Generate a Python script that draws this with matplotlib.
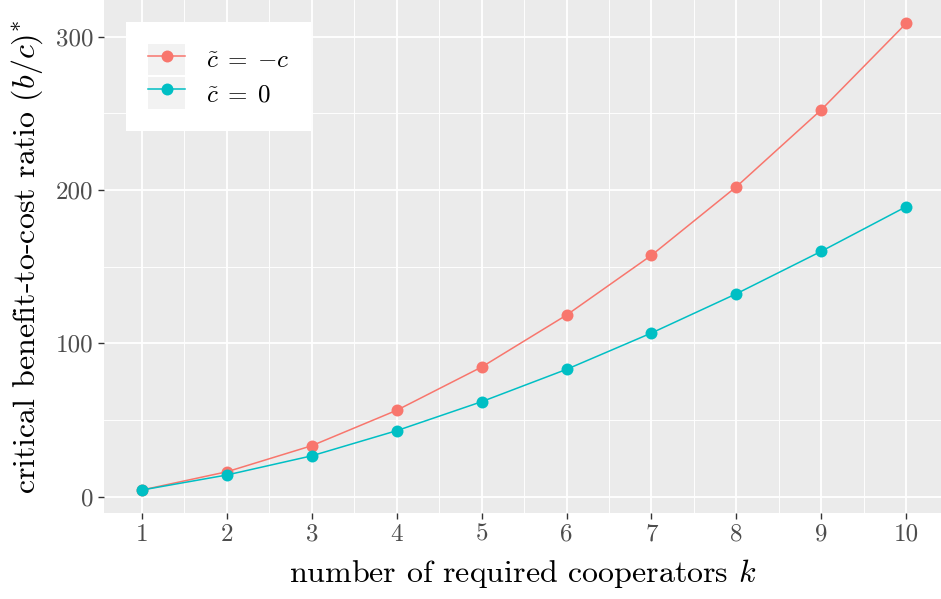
import matplotlib
matplotlib.use("Agg")
import matplotlib.pyplot as plt
from matplotlib.legend_handler import HandlerLine2D
from matplotlib.patches import Rectangle
from matplotlib.ticker import FixedLocator

# critical benefit-to-cost ratio versus number of required cooperators
k = [1, 2, 3, 4, 5, 6, 7, 8, 9, 10]
ratio_neg_c = [4.4, 16.3, 33.3, 56.4, 84.6, 118.5, 157.5, 202.2, 252.4, 308.8]
ratio_zero = [4.4, 14.2, 26.7, 43.1, 62.0, 83.1, 106.8, 132.4, 160.1, 189.2]

series_labels = [r"$\tilde{c}\;=\;{-c}$", r"$\tilde{c}\;=\;0$"]
series_colors = ["#F8766D", "#00BFC4"]

x_ticks = [1, 2, 3, 4, 5, 6, 7, 8, 9, 10]
y_ticks = [0, 100, 200, 300]
x_minor = [1.5, 2.5, 3.5, 4.5, 5.5, 6.5, 7.5, 8.5, 9.5]
y_minor = [50, 150, 250]

plt.rcParams["font.family"] = ["cmr10", "DejaVu Serif"]
plt.rcParams["mathtext.fontset"] = "cm"
plt.rcParams["axes.formatter.use_mathtext"] = True


class KeyHandler(HandlerLine2D):
    """Legend key with a light grey square behind the line and point."""

    def create_artists(self, legend, orig_handle, xdescent, ydescent,
                       width, height, fontsize, trans):
        bg = Rectangle((-xdescent, -ydescent), width, height,
                       facecolor="#F2F2F2", edgecolor="none",
                       transform=trans)
        arts = super().create_artists(legend, orig_handle, xdescent, ydescent,
                                      width, height, fontsize, trans)
        return [bg] + list(arts)


fig = plt.figure(figsize=(9.41, 5.99), dpi=100)
ax = fig.add_axes([104 / 941, (599 - 513.3) / 599, 837 / 941, 513.3 / 599])
ax.set_facecolor("#EBEBEB")
for s in ax.spines.values():
    s.set_visible(False)

lines = []
for vals, col, lab in zip([ratio_neg_c, ratio_zero], series_colors, series_labels):
    ln, = ax.plot(k, vals, color=col, lw=1.1, marker="o", ms=8.6,
                  markeredgewidth=0, label=lab, zorder=3)
    lines.append(ln)

ax.set_xlim(0.552, 10.41)
ax.set_ylim(-10.8, 324.0)

ax.xaxis.set_major_locator(FixedLocator(x_ticks))
ax.yaxis.set_major_locator(FixedLocator(y_ticks))
ax.xaxis.set_minor_locator(FixedLocator(x_minor))
ax.yaxis.set_minor_locator(FixedLocator(y_minor))
ax.set_xticklabels([str(v) for v in x_ticks])
ax.set_yticklabels([str(v) for v in y_ticks])

ax.grid(which="major", color="white", lw=1.3, zorder=0)
ax.grid(which="minor", color="white", lw=0.65, zorder=0)
ax.set_axisbelow(True)

ax.tick_params(which="major", length=4.5, width=1.0, color="#333333",
               labelsize=18, labelcolor="#4D4D4D", pad=3)
ax.tick_params(which="minor", length=0)

ax.set_xlabel("number of required cooperators $k$", fontsize=23,
              color="black", labelpad=8)
ax.set_ylabel(r"critical benefit-to-cost ratio $(b/c)^{*}$", fontsize=23,
              color="black", labelpad=8)

leg = ax.legend(handles=lines, handler_map={matplotlib.lines.Line2D: KeyHandler()},
                loc="upper left", bbox_to_anchor=(126 / 941, 1 - 22 / 599),
                bbox_transform=fig.transFigure, fontsize=18, frameon=True,
                fancybox=False, framealpha=1.0, facecolor="white",
                edgecolor="none", handlelength=1.48, handleheight=1.55,
                labelspacing=0.08, handletextpad=0.84, borderpad=0.88,
                borderaxespad=0.0, numpoints=1)
leg.get_frame().set_linewidth(0)

fig.savefig("out.png", dpi=100)
